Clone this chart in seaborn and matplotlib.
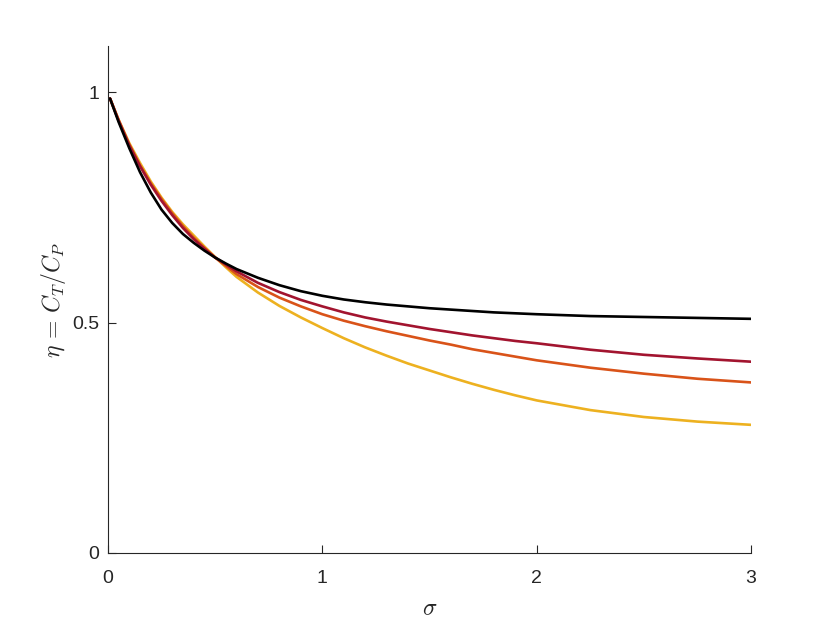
import numpy as np
import pandas as pd
import matplotlib
matplotlib.use('Agg')
import matplotlib.pyplot as plt
import seaborn as sns

sns.set_style('ticks')
plt.rcParams['font.family'] = ['Liberation Sans', 'DejaVu Sans']
plt.rcParams['mathtext.fontset'] = 'cm'

# sigma grid and eta curves
sigma = [0.01, 0.05, 0.1, 0.15, 0.2, 0.25, 0.3, 0.35, 0.4, 0.45, 0.5, 0.55, 0.6,
         0.7, 0.8, 0.9, 1.0, 1.1, 1.2, 1.3, 1.4, 1.5, 1.6, 1.7, 1.8, 1.9, 2.0,
         2.25, 2.5, 2.75, 3.0]
eta_yellow = [0.986, 0.940, 0.889, 0.846, 0.806, 0.771, 0.740, 0.713, 0.689, 0.665, 0.642,
              0.620, 0.599, 0.565, 0.536, 0.511, 0.488, 0.466, 0.446, 0.428, 0.411, 0.396,
              0.381, 0.367, 0.354, 0.342, 0.331, 0.310, 0.295, 0.285, 0.278]
eta_orange = [0.986, 0.939, 0.886, 0.841, 0.802, 0.768, 0.737, 0.709, 0.684, 0.662, 0.641,
              0.623, 0.605, 0.577, 0.554, 0.535, 0.518, 0.504, 0.492, 0.481, 0.471, 0.461,
              0.452, 0.442, 0.434, 0.426, 0.418, 0.402, 0.389, 0.378, 0.370]
eta_red = [0.986, 0.938, 0.884, 0.839, 0.799, 0.764, 0.733, 0.705, 0.681, 0.660, 0.641,
           0.626, 0.611, 0.586, 0.566, 0.549, 0.535, 0.522, 0.511, 0.502, 0.494, 0.486,
           0.479, 0.472, 0.466, 0.460, 0.455, 0.441, 0.430, 0.422, 0.415]
eta_black = [0.986, 0.935, 0.878, 0.826, 0.782, 0.745, 0.716, 0.692, 0.673, 0.656, 0.641,
             0.628, 0.616, 0.597, 0.581, 0.568, 0.558, 0.550, 0.544, 0.539, 0.535, 0.531,
             0.528, 0.525, 0.522, 0.520, 0.518, 0.514, 0.512, 0.510, 0.508]

series = {'yellow': eta_yellow, 'orange': eta_orange, 'red': eta_red, 'black': eta_black}
colors = {'yellow': '#EDB120', 'orange': '#D95319', 'red': '#A2142F', 'black': '#000000'}

df = pd.concat([pd.DataFrame({'sigma': sigma, 'eta': v, 'case': k}) for k, v in series.items()])

fig = plt.figure(figsize=(8.3, 6.23), dpi=100)
ax = fig.add_axes([0.13, 0.1124, 0.775, 0.8138])

for name in series:
    sns.lineplot(data=df[df['case'] == name], x='sigma', y='eta', color=colors[name],
                 linewidth=1.9, ax=ax, legend=False)

ax.set_xlim(0, 3)
ax.set_ylim(0, 1.1)
ax.set_xticks([0, 1, 2, 3])
ax.set_yticks([0, 0.5, 1])
ax.set_yticklabels(['0', '0.5', '1'])
ax.tick_params(direction='in', length=6, width=0.8, labelsize=14, colors='#262626')
ax.tick_params(axis='x', pad=12)
ax.tick_params(axis='y', pad=6)
for s in ['left', 'bottom']:
    ax.spines[s].set_color('#262626')
    ax.spines[s].set_linewidth(0.8)
sns.despine(ax=ax)

ax.set_xlabel(r'$\sigma$', fontsize=17, labelpad=8)
ax.set_ylabel(r'$\eta\,=\,C_T/C_P$', fontsize=17, labelpad=3)

fig.savefig('out.png', dpi=100)
